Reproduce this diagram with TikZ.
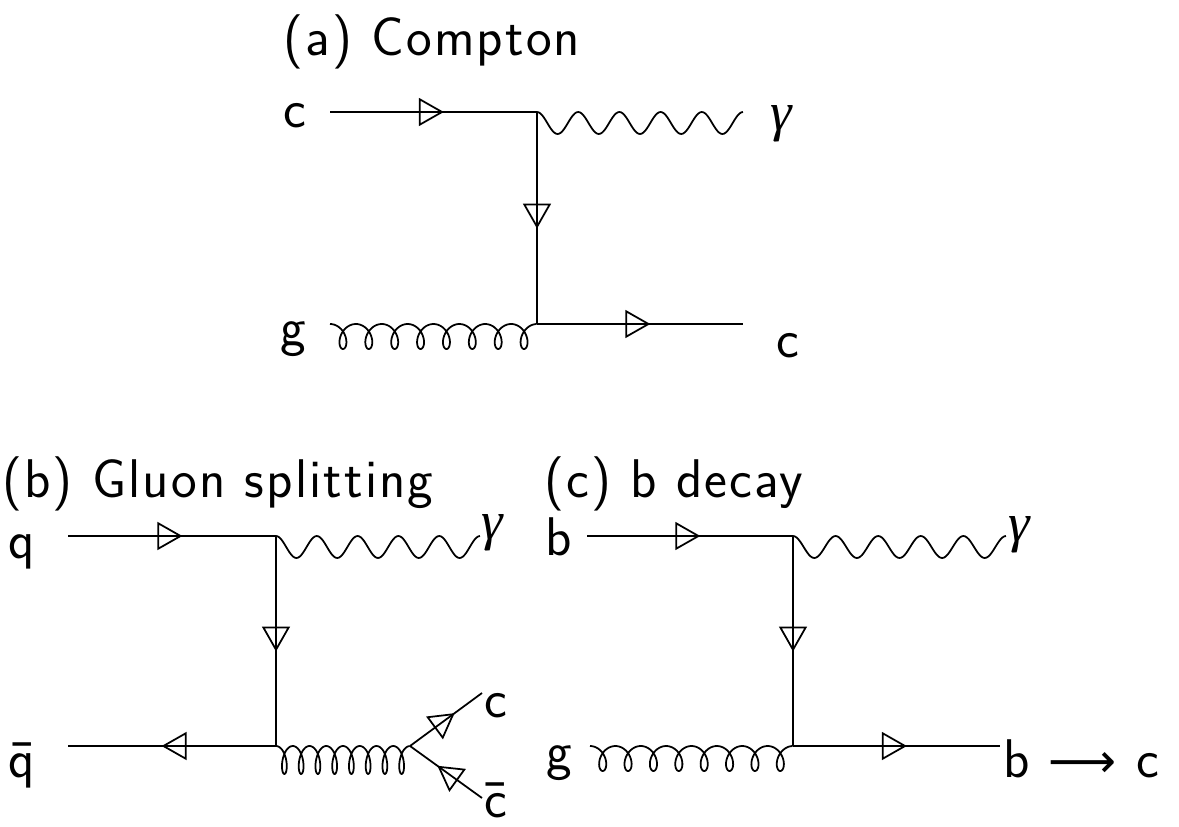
\documentclass[tikz,border=0pt]{standalone}
\usepackage{fontspec}
\newfontfamily\lblfont{lmsans17-regular.otf}[LetterSpace=4]
\newfontfamily\greekfont{Liberation Serif}
\newfontfamily\symbfont{DejaVu Sans}
\usetikzlibrary{arrows.meta, calc, decorations.markings}

\tikzset{
  fermion/.style={line width=1pt, postaction=decorate,
    decoration={markings, mark=at position #1 with {\arrow{Triangle[open, length=0.5cm, width=0.56cm]}}}},
  fermion/.default=0.55,
  boson/.style={line width=1pt},
  lbl/.style={font=\lblfont\fontsize{31}{38}\selectfont, inner sep=0pt, anchor=base west}
}
\newcommand{\gam}{{\greekfont\itshape γ}}

% wavy photon line, #3 periods
\newcommand{\photonLine}[3]{%
  \draw[boson] let \p1=(#1), \p2=(#2) in
    plot[domain=0:1, samples=121, smooth, variable=\t]
    ({\x1+(\x2-\x1)*\t}, {\y1-0.22cm*(1-cos(360*#3*\t))});
}
% curly gluon line, 8 loops; #3 loop width, #4 half depth
\newcommand{\gluonLine}[4]{%
  \draw[boson] let \p1=(#1), \p2=(#2) in
    plot[domain=0:1, samples=321, smooth, variable=\t]
    ({\x1+(\x2-\x1)*\t+#3*sin(2880*\t)}, {\y1-#4*(1-cos(2880*\t))});
}

\begin{document}
\begin{tikzpicture}[x=0.02cm, y=0.02cm]
  \useasboundingbox (0,0) rectangle (1179,826);

  % (a) Compton
  \coordinate (aIn) at (330,714);
  \coordinate (aTop) at (537,714);
  \coordinate (aGam) at (743,714);
  \coordinate (aG) at (330,502);
  \coordinate (aBot) at (537,502);
  \coordinate (aOut) at (743,502);
  \node[lbl] (aTitle) at (283,770) {(a) Compton};
  \node[lbl] (aLc) at (283,698) {c};
  \node[lbl] (aLgam) at (770,695) {\gam};
  \node[lbl] (aLg) at (280,481) {g};
  \node[lbl] (aLout) at (776,469) {c};
  \draw[fermion] (aIn) -- (aTop);
  \draw[fermion] (aTop) -- (aBot);
  \draw[fermion] (aBot) -- (aOut);
  \photonLine{aTop}{aGam}{5}
  \gluonLine{aG}{aBot}{0.18cm}{0.25cm}

  % (b) Gluon splitting
  \coordinate (bIn) at (68,290);
  \coordinate (bTop) at (276,290);
  \coordinate (bGam) at (480,290);
  \coordinate (bQbar) at (68,80);
  \coordinate (bBot) at (276,80);
  \coordinate (bSplit) at (410,80);
  \coordinate (bC) at (482,133);
  \coordinate (bCbar) at (482,28);
  \node[lbl] (bTitle) at (2,329) {(b) Gluon splitting};
  \node[lbl] (bLq) at (8,268) {q};
  \node[lbl] (bLgam) at (481,287) {\gam};
  \node[lbl] (bLqbar) at (8,49) {\=q};
  \node[lbl] (bLc) at (484,109) {c};
  \node[lbl] (bLcbar) at (484,9) {\=c};
  \draw[fermion] (bIn) -- (bTop);
  \draw[fermion] (bTop) -- (bBot);
  \draw[fermion] (bBot) -- (bQbar);
  \draw[fermion=0.62] (bSplit) -- (bC);
  \draw[fermion=0.62] (bCbar) -- (bSplit);
  \photonLine{bTop}{bGam}{5}
  \gluonLine{bBot}{bSplit}{0.12cm}{0.28cm}

  % (c) b decay
  \coordinate (cIn) at (587,290);
  \coordinate (cTop) at (793,290);
  \coordinate (cGam) at (1006,290);
  \coordinate (cG) at (590,80);
  \coordinate (cBot) at (793,80);
  \coordinate (cOut) at (1000,80);
  \node[lbl] (cTitle) at (544,329) {(c) b decay};
  \node[lbl] (cLb) at (545,271) {b};
  \node[lbl] (cLgam) at (1008,285) {\gam};
  \node[lbl] (cLg) at (546,57) {g};
  \node[lbl] (cLout) at (1003,49) {b {\symbfont\fontsize{27}{34}\selectfont ⟶} c};
  \draw[fermion] (cIn) -- (cTop);
  \draw[fermion] (cTop) -- (cBot);
  \draw[fermion] (cBot) -- (cOut);
  \photonLine{cTop}{cGam}{5}
  \gluonLine{cG}{cBot}{0.18cm}{0.25cm}
\end{tikzpicture}
\end{document}
